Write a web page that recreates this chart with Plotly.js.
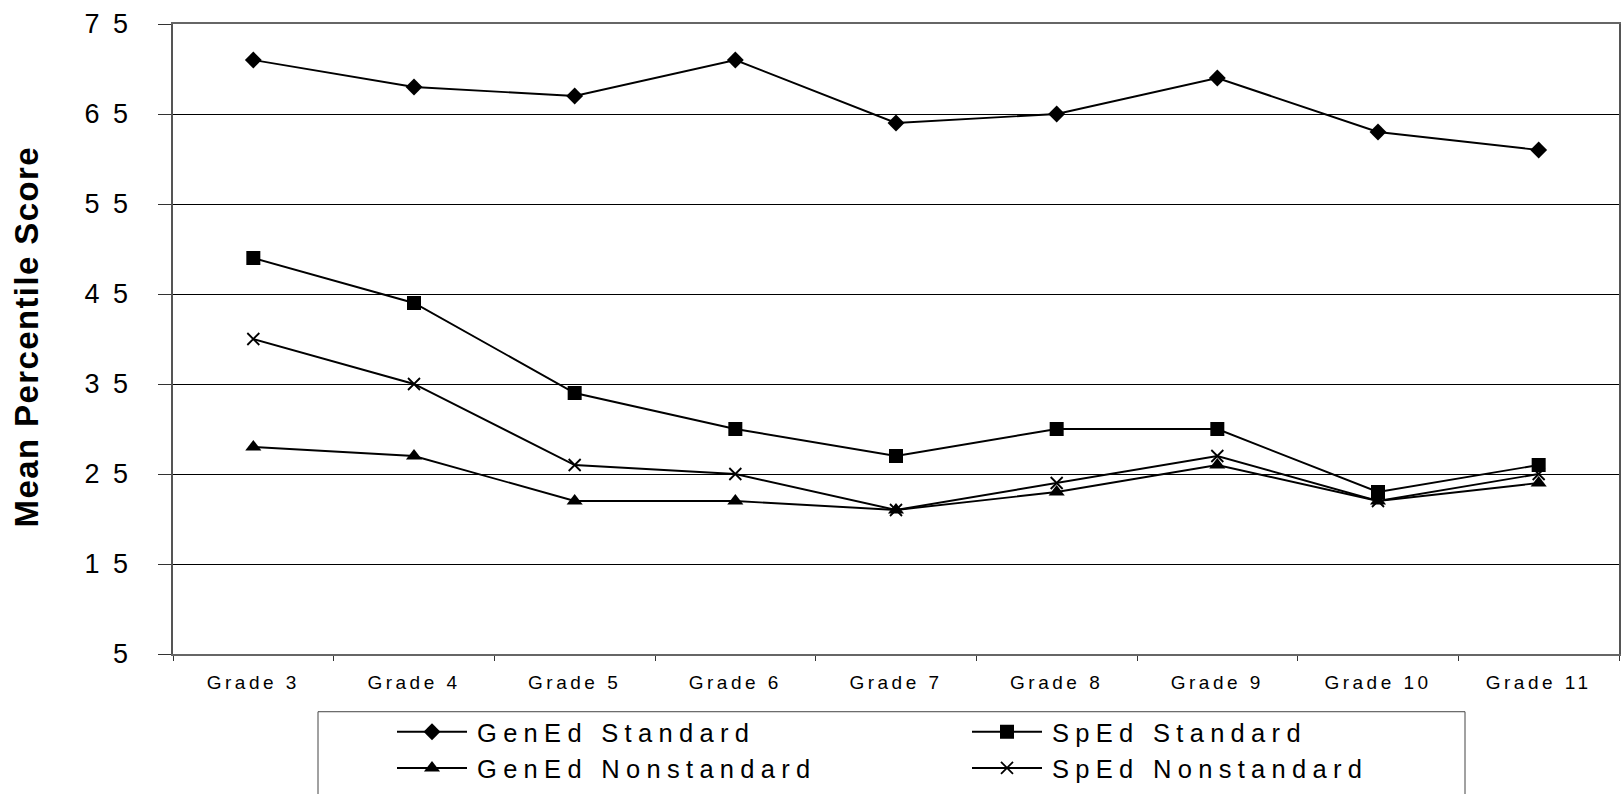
<!DOCTYPE html>
<html><head><meta charset="utf-8">
<script src="https://cdn.plot.ly/plotly-3.0.1.min.js"></script>
<style>
html,body{margin:0;padding:0;background:#fff;}
#chart{width:1621px;height:794px;}
.xtick text{letter-spacing:3.5px;}
.ytick text{letter-spacing:13.5px;}
.legendtext{letter-spacing:6.3px;transform:translateX(5px);}
.annotation-text{letter-spacing:1.4px;}
</style></head><body><div id="chart"></div>
<script>
const grades = ["Grade 3","Grade 4","Grade 5","Grade 6","Grade 7","Grade 8","Grade 9","Grade 10","Grade 11"];
const genEdStandard = [71,68,67,71,64,65,69,63,61];
const spEdStandard = [49,44,34,30,27,30,30,23,26];
const genEdNonstandard = [28,27,22,22,21,23,26,22,24];
const spEdNonstandard = [40,35,26,25,21,24,27,22,25];
const yTicks = [5,15,25,35,45,55,65,75];
const seriesNames = ["GenEd Standard","SpEd Standard","GenEd Nonstandard","SpEd Nonstandard"];
const yTitle = "Mean Percentile Score";

const FONT = "Liberation Sans, Arial, sans-serif";
function tr(name, y, symbol, size){
  return {type:'scatter', mode:'lines+markers', name:name, x:grades, y:y,
    line:{color:'#000', width:1.9},
    marker:{symbol:symbol, size:size, color:'#000', line:{color:'#000', width: symbol==='x-thin' ? 1.8 : 0}}};
}
const data = [
  tr(seriesNames[0], genEdStandard, 'diamond', 13),
  tr(seriesNames[1], spEdStandard, 'square', 14),
  tr(seriesNames[2], genEdNonstandard, 'triangle-up', 14),
  tr(seriesNames[3], spEdNonstandard, 'x-thin', 12)
];
const L=173, R=1619, T=24, B=657, W=1621, H=794;
const px = v => (v-L)/(R-L);
const py = v => (B-v)/(B-T);
const layout = {
  width:W, height:H,
  margin:{l:L, r:W-R, t:T, b:H-B, pad:0},
  paper_bgcolor:'#fff', plot_bgcolor:'#fff',
  font:{family:FONT, color:'#000'},
  showlegend:true,
  xaxis:{type:'category', range:[-0.5,8.5], showgrid:false, zeroline:false,
    showline:true, linecolor:'#666', linewidth:2, mirror:true,
    ticks:'outside', tickson:'boundaries', ticklen:5, tickcolor:'#333', tickwidth:1,
    tickfont:{size:19, family:FONT, color:'#000'}, ticklabelstandoff:10},
  yaxis:{range:[5,75], tickvals:yTicks, ticktext:yTicks.map(String),
    showgrid:true, gridcolor:'#000', gridwidth:1, zeroline:false,
    showline:true, linecolor:'#555', linewidth:2, mirror:true,
    ticks:'outside', ticklen:13, tickcolor:'#333', tickwidth:1,
    tickfont:{size:27, family:FONT, color:'#000'}, ticklabelstandoff:11},
  legend:{orientation:'h', x:px(392), xanchor:'left', y:py(712), yanchor:'top',
    bgcolor:'rgba(0,0,0,0)', borderwidth:0, itemwidth:70,
    entrywidth:490, entrywidthmode:'pixels',
    font:{size:25.5, family:FONT, color:'#000'}},
  shapes:[{type:'rect', xref:'paper', yref:'paper', x0:px(318), x1:px(1465), y0:py(715), y1:py(810),
    line:{color:'#444', width:1}, fillcolor:'rgba(0,0,0,0)', layer:'below'}],
  annotations:[{text:'<b>'+yTitle+'</b>', xref:'paper', yref:'paper', x:px(27), y:py(338),
    xanchor:'center', yanchor:'middle', textangle:-90, showarrow:false,
    font:{size:33, family:FONT, color:'#000'}}]
};
Plotly.newPlot('chart', data, layout, {displayModeBar:false, staticPlot:true});
</script></body></html>
